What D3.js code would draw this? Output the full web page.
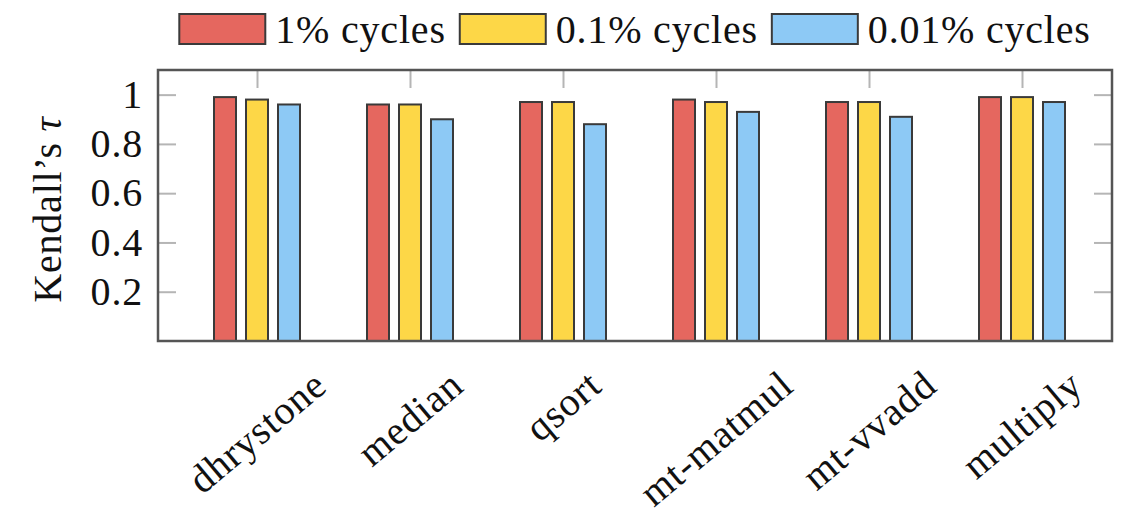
<!DOCTYPE html>
<html>
<head>
<meta charset="utf-8">
<script src="https://cdn.jsdelivr.net/npm/d3@7/dist/d3.min.js"></script>
<style>
  html, body { margin: 0; padding: 0; background: #fff; }
  svg { display: block; }
</style>
</head>
<body>
<svg id="chart" width="1128" height="519"></svg>
<script>
// Benchmarks on the x axis
const categories = ["dhrystone", "median", "qsort", "mt-matmul", "mt-vvadd", "multiply"];
// Sampling rates shown as grouped bars
const seriesNames = ["1% cycles", "0.1% cycles", "0.01% cycles"];
const seriesColors = ["#e5675f", "#fdd747", "#8dc9f5"];
// Kendall's tau per benchmark, one array per sampling rate
const tau1 = [0.99, 0.96, 0.97, 0.98, 0.97, 0.99];
const tau01 = [0.98, 0.96, 0.97, 0.97, 0.97, 0.99];
const tau001 = [0.96, 0.90, 0.88, 0.93, 0.91, 0.97];
const yTicks = [0.2, 0.4, 0.6, 0.8, 1];

const seriesValues = [tau1, tau01, tau001];
const rows = categories.map((c, i) => ({
  category: c,
  values: seriesNames.map((s, k) => ({ series: s, k, value: seriesValues[k][i] }))
}));

const FONT = "Liberation Serif";
const fontSize = 40;
const svg = d3.select("#chart");
const frame = { left: 158, right: 1112, top: 70, bottom: 341 };

const y = d3.scaleLinear().domain([0, 1.1]).range([frame.bottom, frame.top]);
const x = d3.scalePoint().domain(categories).range([frame.left + 99, frame.right - 90]);
const xs = d3.scaleBand().domain(seriesNames).range([-43, 43]).paddingInner(0.3125).paddingOuter(0);

const setFont = sel => sel.style("font-family", FONT).style("font-size", fontSize + "px")
  .style("letter-spacing", "0.8px").style("fill", "#111");

// inner tick marks
const tickLen = 18;
const styleAxis = g => {
  g.select(".domain").remove();
  g.selectAll(".tick line").attr("stroke", "#b5b5b5").attr("stroke-width", 2);
  g.selectAll(".tick text").call(setFont);
};

svg.append("g").attr("transform", `translate(${frame.left},0)`)
  .call(d3.axisLeft(y).tickValues(yTicks).tickSizeInner(-tickLen).tickSizeOuter(0)
    .tickPadding(15).tickFormat(d => d3.format("~g")(d)))
  .call(styleAxis);

svg.append("g").attr("transform", `translate(${frame.right},0)`)
  .call(d3.axisRight(y).tickValues(yTicks).tickSizeInner(-tickLen).tickSizeOuter(0).tickFormat(""))
  .call(styleAxis);

svg.append("g").attr("transform", `translate(0,${frame.top})`)
  .call(d3.axisTop(x).tickSizeInner(-tickLen).tickSizeOuter(0).tickFormat(""))
  .call(styleAxis);

// bars
const groups = svg.append("g").selectAll("g").data(rows).join("g")
  .attr("transform", d => `translate(${x(d.category)},0)`);
groups.selectAll("rect").data(d => d.values).join("rect")
  .attr("x", d => xs(d.series))
  .attr("width", xs.bandwidth())
  .attr("y", d => y(d.value))
  .attr("height", d => y(0) - y(d.value))
  .attr("fill", d => seriesColors[d.k])
  .attr("stroke", "#3a3a3a")
  .attr("stroke-width", 2);

// plot frame
svg.append("rect")
  .attr("x", frame.left).attr("y", frame.top)
  .attr("width", frame.right - frame.left).attr("height", frame.bottom - frame.top)
  .attr("fill", "none").attr("stroke", "#555").attr("stroke-width", 2.5);

// rotated category labels, bounding box hung from a fixed top line
const labelTop = 362;
const angle = 40;
const rad = angle * Math.PI / 180;
const lineH = fontSize * 1.1;
categories.forEach(c => {
  const t = svg.append("text")
    .call(setFont)
    .attr("text-anchor", "middle")
    .attr("dominant-baseline", "central")
    .text(c);
  const L = t.node().getComputedTextLength();
  const cy = labelTop + (L * Math.sin(rad) + lineH * Math.cos(rad)) / 2;
  t.attr("transform", `translate(${x(c)},${cy}) rotate(${-angle})`);
});

// y axis title
const yTitle = svg.append("text")
  .call(setFont)
  .attr("text-anchor", "middle")
  .attr("transform", `translate(61,${(frame.top + frame.bottom) / 2 + 4}) rotate(-90)`);
yTitle.append("tspan").text("Kendall\u2019s ");
yTitle.append("tspan").style("font-style", "italic").text("\u03C4");

// legend
const legend = svg.append("g");
const boxW = 86, boxH = 30, boxGap = 10, itemGap = 14;
let cursor = 0;
seriesNames.forEach((s, k) => {
  legend.append("rect")
    .attr("x", cursor).attr("y", 14).attr("width", boxW).attr("height", boxH)
    .attr("fill", seriesColors[k]).attr("stroke", "#3a3a3a").attr("stroke-width", 2);
  cursor += boxW + boxGap;
  const t = legend.append("text")
    .call(setFont)
    .attr("x", cursor).attr("y", 29)
    .attr("dominant-baseline", "central")
    .text(s);
  cursor += t.node().getComputedTextLength() + itemGap;
});
const legendW = cursor - itemGap;
legend.attr("transform", `translate(${(frame.left + frame.right) / 2 - legendW / 2},0)`);
</script>
</body>
</html>
